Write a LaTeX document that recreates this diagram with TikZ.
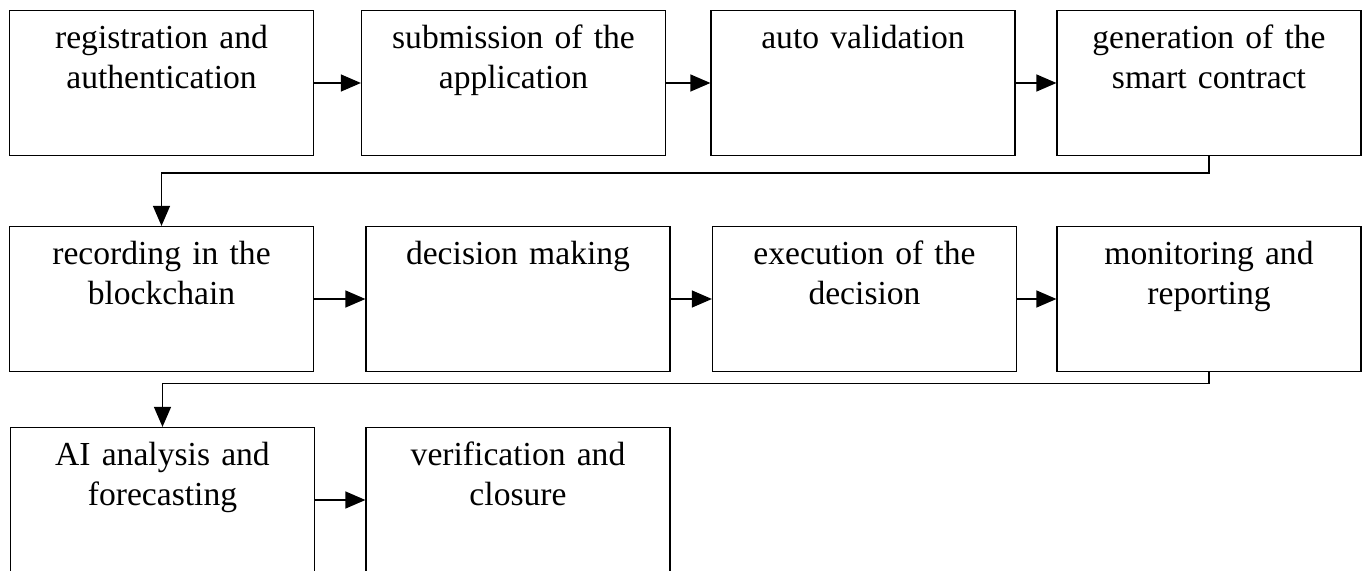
\documentclass[tikz,border=0pt]{standalone}
\usepackage{fontspec}
\setmainfont{Liberation Serif}
\usetikzlibrary{calc}
\usetikzlibrary{positioning}
\usetikzlibrary{arrows.meta}
\tikzstyle{stepbox} = [draw, rectangle, line width=0.6pt, text width=152pt, inner sep=0pt, text height=19pt, text depth=53.5pt, align=center, font=\fontsize{16.8}{19.8}\selectfont]
\tikzstyle{flow} = [line width=0.6pt, -{Triangle[length=10pt,width=8.5pt]}]

\begin{document}
\begin{tikzpicture}[x=0.5pt, y=0.5pt]
\useasboundingbox (0,0) rectangle (1363,-571);
\node[stepbox] (reg) at (161.5,-83) {registration and\\authentication};
\node[stepbox] (submit) at ($(reg)+(352,0)$) {submission of the\\application};
\node[stepbox] (valid) at ($(submit)+(349.5,0)$) {auto validation};
\node[stepbox] (contract) at ($(valid)+(346,0)$) {generation of the\\smart contract};

\node[stepbox] (record) at ($(reg)+(0,-216)$) {recording in the\\blockchain};
\node[stepbox] (decide) at ($(record)+(356.5,0)$) {decision making};
\node[stepbox] (exec) at ($(decide)+(346.5,0)$) {execution of the\\decision};
\node[stepbox] (monitor) at ($(exec)+(344.5,0)$) {monitoring and\\reporting};

\node[stepbox] (ai) at ($(record)+(1,-201)$) {AI analysis and\\forecasting};
\node[stepbox] (close) at ($(ai)+(355.5,0)$) {verification and\\closure};

\draw[flow] (reg) -- (submit);
\draw[flow] (submit) -- (valid);
\draw[flow] (valid) -- (contract);
\draw[flow] (contract.south) -- ++(0,-17) -| (record.north);

\draw[flow] (record) -- (decide);
\draw[flow] (decide) -- (exec);
\draw[flow] (exec) -- (monitor);
\draw[flow] (monitor.south) -- ++(0,-11) -| (ai.north);

\draw[flow] (ai) -- (close);
\end{tikzpicture}
\end{document}
